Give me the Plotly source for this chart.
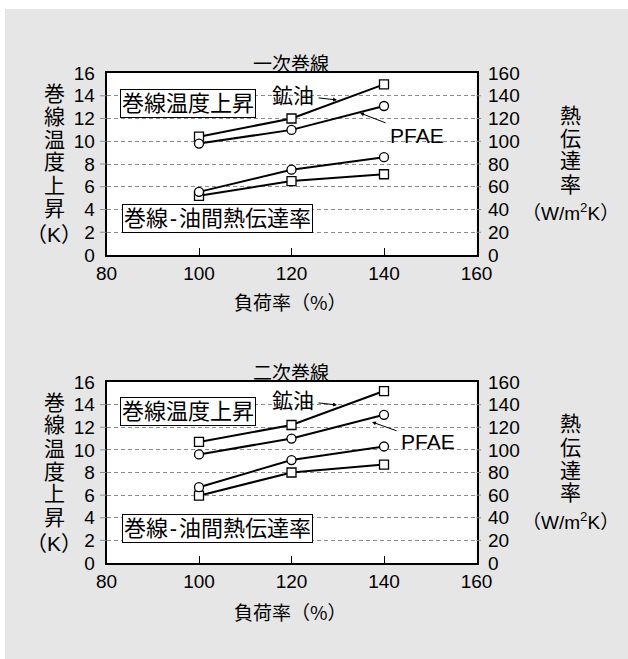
import plotly.graph_objects as go

# Load factor (%)
load = [100, 120, 140]

# Primary winding
prim_temp_mineral = [10.4, 12.0, 15.0]   # winding temperature rise (K)
prim_temp_pfae = [9.8, 11.0, 13.1]
prim_htc_mineral = [52, 65, 71]          # winding-oil heat transfer coefficient (W/m2K)
prim_htc_pfae = [55.5, 75, 86]

# Secondary winding
sec_temp_mineral = [10.7, 12.2, 15.2]
sec_temp_pfae = [9.6, 11.0, 13.1]
sec_htc_mineral = [59.5, 80, 87]
sec_htc_pfae = [67, 91, 103]

titles = ["一次巻線", "二次巻線"]
x_title = "負荷率（%）"
left_title = ["巻", "線", "温", "度", "上", "昇", "（K）"]
right_title = ["熱", "伝", "達", "率"]
right_unit = "（W/m<sup>2</sup>K）"
box_temp = "巻線温度上昇"
box_htc = "巻線\u200a-\u200a油間熱伝達率"
x_ticks = [80, 100, 120, 140, 160]
left_ticks = list(range(0, 17, 2))
right_ticks = list(range(0, 161, 20))
grid_vals = list(range(2, 15, 2))

W, H = 628, 659
FONT = "Liberation Sans, Noto Sans CJK JP, sans-serif"
JP = "Noto Sans CJK JP, sans-serif"
BG = "#e6e6e6"

# plot areas in pixels (left, right, top, bottom)
px_left, px_right = 106.5, 476.5
rows = [(73, 255), (382, 563)]


def fx(px):
    return px / W


def fy(py):
    return 1 - py / H


fig = go.Figure()

panels = [
    (prim_temp_mineral, prim_temp_pfae, prim_htc_mineral, prim_htc_pfae),
    (sec_temp_mineral, sec_temp_pfae, sec_htc_mineral, sec_htc_pfae),
]

line_style = dict(color="black", width=2)
sq = dict(symbol="square", size=9, color="white", line=dict(color="black", width=1.3))
ci = dict(symbol="circle", size=9, color="white", line=dict(color="black", width=1.3))

for i, (tm, tp, hm, hp) in enumerate(panels):
    xa = "x" if i == 0 else "x2"
    yl = "y" if i == 0 else "y3"
    yr = "y2" if i == 0 else "y4"
    for vals, mk, ya in [(tm, sq, yl), (tp, ci, yl), (hm, sq, yr), (hp, ci, yr)]:
        fig.add_trace(go.Scatter(x=load, y=vals, mode="lines+markers",
                                 line=line_style, marker=mk,
                                 xaxis=xa, yaxis=ya, showlegend=False,
                                 cliponaxis=False))

axis_common = dict(showline=True, linecolor="black", linewidth=1.5, automargin=False,
                   zeroline=False, tickfont=dict(family=FONT, size=19, color="black"))

layout = dict(
    template="none",
    width=W, height=H,
    margin=dict(l=0, r=0, t=0, b=0, autoexpand=False),
    paper_bgcolor=BG, plot_bgcolor="white",
    showlegend=False,
    font=dict(family=FONT, color="black"),
)

for i, (top, bot) in enumerate(rows):
    dom_y = [fy(bot), fy(top)]
    xk = "xaxis" if i == 0 else "xaxis2"
    ylk = "yaxis" if i == 0 else "yaxis3"
    yrk = "yaxis2" if i == 0 else "yaxis4"
    yl = "y" if i == 0 else "y3"
    xa = "x" if i == 0 else "x2"
    layout[xk] = dict(axis_common, domain=[fx(px_left), fx(px_right)], range=[80, 160],
                      tickvals=x_ticks, ticks="inside", ticklen=7, tickcolor="black",
                      tickwidth=1, mirror=True, showgrid=False, anchor=yl)
    layout[ylk] = dict(axis_common, domain=dom_y, range=[0, 16], tickvals=left_ticks,
                       ticks="", showgrid=True, gridcolor="#8c8c8c", griddash="4px,3px",
                       gridwidth=1, anchor=xa, ticklabelstandoff=6)
    layout[yrk] = dict(axis_common, range=[0, 160], tickvals=right_ticks, ticks="",
                       showgrid=False, overlaying=yl, side="right", anchor=xa,
                       ticklabelstandoff=6)

fig.update_layout(**layout)

annotations = []
shapes = []

# white border strips at the top and left edges
shapes.append(dict(type="rect", xref="paper", yref="paper", x0=0, x1=1, y0=fy(9), y1=1,
                   fillcolor="white", line=dict(width=0), layer="above"))
shapes.append(dict(type="rect", xref="paper", yref="paper", x0=0, x1=fx(5), y0=0, y1=1,
                   fillcolor="white", line=dict(width=0), layer="above"))

for i, (top, bot) in enumerate(rows):
    yl = "y" if i == 0 else "y3"
    off = top - rows[0][0]
    # dashed grid continues just past the frame on both sides
    for g in grid_vals:
        for a, b in [(100, px_left), (px_right, 481)]:
            shapes.append(dict(type="line", xref="paper", yref=yl, x0=fx(a), x1=fx(b),
                               y0=g, y1=g, line=dict(color="#8c8c8c", width=1),
                               layer="above"))
    # panel title
    annotations.append(dict(text=titles[i], xref="paper", yref="paper",
                            x=fx(291), y=fy(62 + off), showarrow=False,
                            font=dict(family=JP, size=19), xanchor="center", yanchor="middle"))
    # x axis title
    annotations.append(dict(text=x_title, xref="paper", yref="paper",
                            x=fx(290), y=fy(302 + off), showarrow=False,
                            font=dict(family=JP, size=19), xanchor="center", yanchor="middle"))
    # left vertical title
    for k, ch in enumerate(left_title):
        annotations.append(dict(text=ch, xref="paper", yref="paper",
                                x=fx(54), y=fy(93 + off + 23 * k + (3 if k == 6 else 0)),
                                showarrow=False, font=dict(family=FONT, size=21),
                                xanchor="center", yanchor="middle"))
    # right vertical title
    for k, ch in enumerate(right_title):
        annotations.append(dict(text=ch, xref="paper", yref="paper",
                                x=fx(570), y=fy(115 + off + 23 * k),
                                showarrow=False, font=dict(family=FONT, size=21),
                                xanchor="center", yanchor="middle"))
    annotations.append(dict(text=right_unit, xref="paper", yref="paper",
                            x=fx(570), y=fy(212 + off), showarrow=False,
                            font=dict(family=FONT, size=19),
                            xanchor="center", yanchor="middle"))
    # boxed labels
    for txt, cx, cy in [(box_temp, 188, 103.5 if i == 0 else 411.5),
                        (box_htc, 217.5, 218 if i == 0 else 528.5)]:
        annotations.append(dict(text=txt, xref="paper", yref="paper",
                                x=fx(cx), y=fy(cy), showarrow=False,
                                font=dict(family=FONT, size=22),
                                bgcolor="white", bordercolor="black", borderwidth=1,
                                borderpad=1, xanchor="center", yanchor="middle"))

# series labels with leader arrows (arrow tail sits at the padded text box edge)
labels = [
    ("鉱油", 293, 95, (337, 100)),
    ("PFAE", 417, 135, (360, 113)),
    ("鉱油", 293, 400, (337, 405)),
    ("PFAE", 428, 442, (372, 422)),
]
for txt, tx, ty, head in labels:
    annotations.append(dict(text=txt, xref="paper", yref="paper",
                            x=fx(head[0]), y=fy(head[1]),
                            ax=tx - head[0], ay=ty - head[1],
                            showarrow=True, arrowhead=2, arrowsize=0.8,
                            arrowwidth=1, arrowcolor="black", borderpad=4,
                            font=dict(family=FONT, size=21)))

fig.update_layout(annotations=annotations, shapes=shapes)

fig.write_html("out.html")
